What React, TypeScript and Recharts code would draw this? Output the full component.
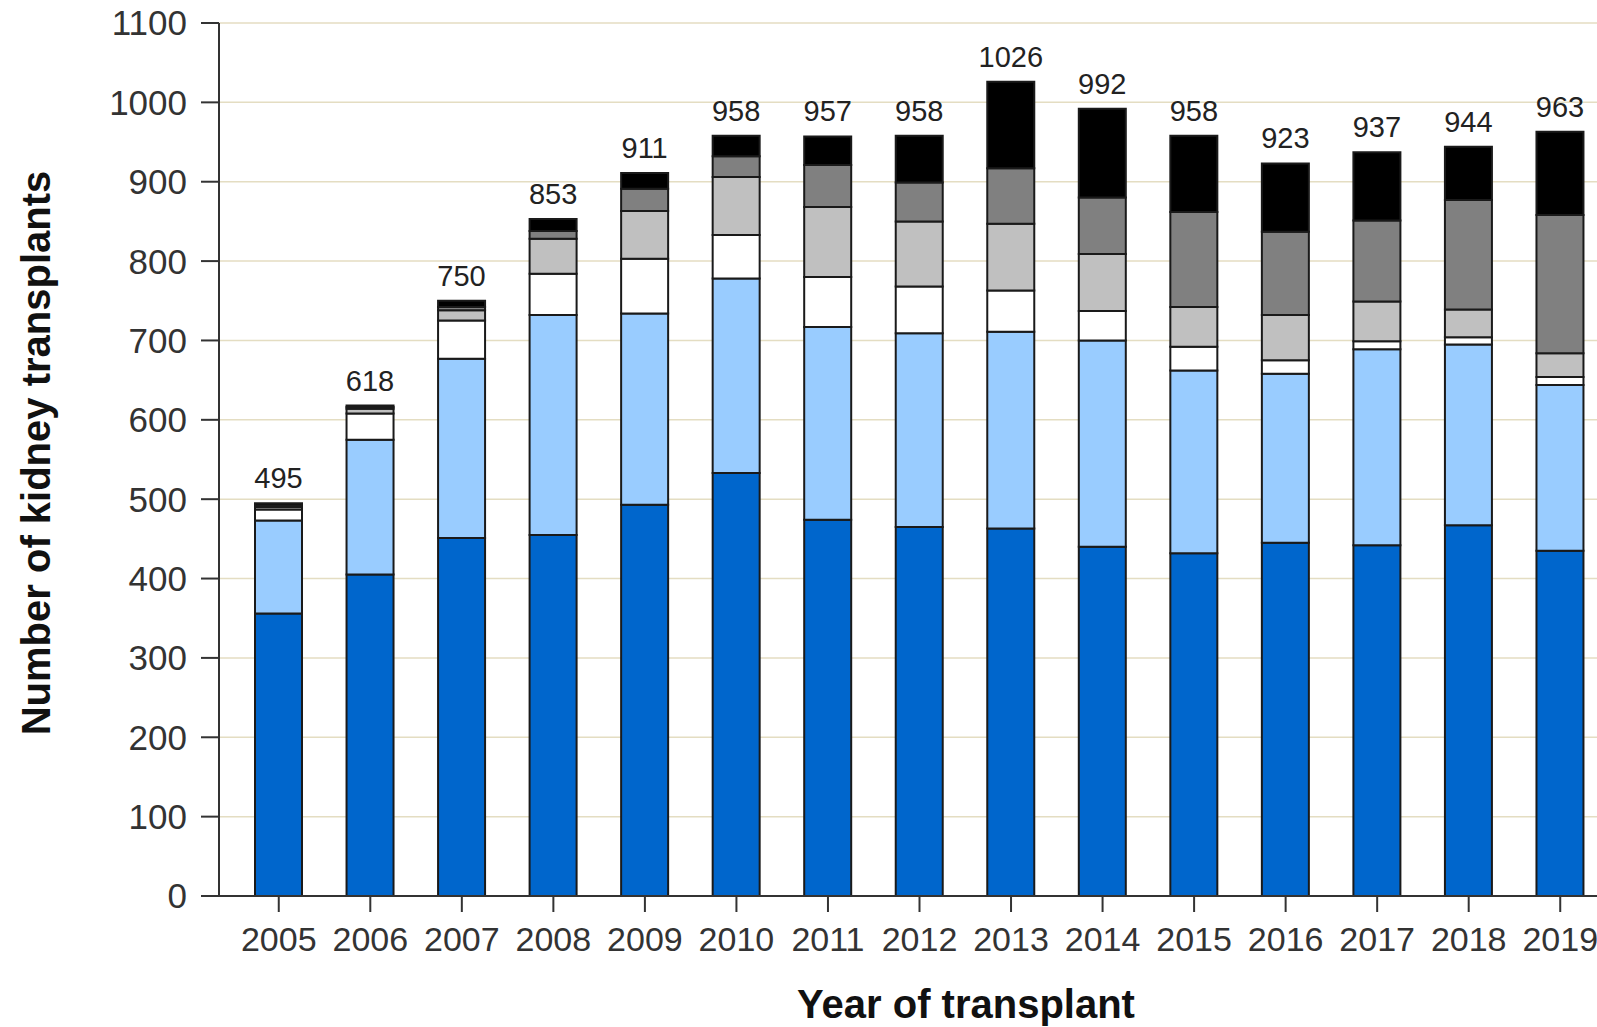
import { BarChart, Bar, XAxis, YAxis, CartesianGrid, LabelList, Label } from 'recharts'

const years = ['2005', '2006', '2007', '2008', '2009', '2010', '2011', '2012', '2013', '2014', '2015', '2016', '2017', '2018', '2019']
const darkBlue = [356, 405, 451, 455, 493, 533, 474, 465, 463, 440, 432, 445, 442, 467, 435]
const lightBlue = [117, 170, 226, 277, 241, 245, 243, 244, 248, 260, 230, 213, 247, 228, 209]
const white = [14, 33, 48, 52, 69, 55, 63, 59, 52, 37, 30, 17, 10, 9, 10]
const lightGray = [3, 6, 13, 44, 60, 73, 88, 82, 84, 72, 50, 57, 50, 35, 30]
const midGray = [2, 2, 4, 10, 28, 26, 53, 49, 70, 71, 120, 105, 102, 138, 174]
const black = [3, 2, 8, 15, 20, 26, 36, 59, 109, 112, 96, 86, 86, 67, 105]
const totals = [495, 618, 750, 853, 911, 958, 957, 958, 1026, 992, 958, 923, 937, 944, 963]
const yTicks = [0, 100, 200, 300, 400, 500, 600, 700, 800, 900, 1000, 1100]

const data = years.map((year, i) => ({
  year,
  darkBlue: darkBlue[i],
  lightBlue: lightBlue[i],
  white: white[i],
  lightGray: lightGray[i],
  midGray: midGray[i],
  black: black[i],
}))

const series = [
  { key: 'darkBlue', fill: '#0066cc' },
  { key: 'lightBlue', fill: '#99ccff' },
  { key: 'white', fill: '#ffffff' },
  { key: 'lightGray', fill: '#c0c0c0' },
  { key: 'midGray', fill: '#808080' },
  { key: 'black', fill: '#000000' },
]

const font = "'Liberation Sans', Arial, sans-serif"

function TotalLabel(props: any) {
  const { x, y, width, index } = props
  return (
    <text
      x={Number(x) + Number(width) / 2}
      y={Number(y) - 15}
      textAnchor="middle"
      fontSize={29}
      fontFamily={font}
      fill="#222"
    >
      {totals[index]}
    </text>
  )
}

export default function App() {
  return (
    <div style={{ position: 'fixed', left: 0, top: 0, width: 1597, height: 1027, overflow: 'hidden', background: '#fff' }}>
      <BarChart
        width={1620}
        height={1027}
        data={data}
        margin={{ top: 23, right: 0, left: 0, bottom: 0 }}
        barSize={47}
      >
        <CartesianGrid vertical={false} stroke="#e4ddc2" strokeWidth={1.5} />
        <XAxis
          dataKey="year"
          height={131}
          padding={{ left: 14, right: 14 }}
          axisLine={{ stroke: '#333', strokeWidth: 2 }}
          tickLine={{ stroke: '#333', strokeWidth: 2 }}
          tickSize={16}
          tickMargin={15}
          tick={{ fontSize: 34, fill: '#333', fontFamily: font }}
          interval={0}
        >
          <Label
            content={() => (
              <text x={966} y={1018} textAnchor="middle" fontSize={40} fontWeight="bold" fontFamily={font} fill="#111">
                Year of transplant
              </text>
            )}
          />
        </XAxis>
        <YAxis
          width={219}
          domain={[0, 1100]}
          ticks={yTicks}
          interval={0}
          axisLine={{ stroke: '#333', strokeWidth: 2 }}
          tickLine={{ stroke: '#333', strokeWidth: 2 }}
          tickSize={18}
          tickMargin={14}
          tick={{ fontSize: 35, fill: '#333', fontFamily: font }}
        >
          <Label
            content={() => (
              <text
                transform="translate(50,453) rotate(-90)"
                textAnchor="middle"
                fontSize={40}
                fontWeight="bold"
                fontFamily={font}
                fill="#111"
              >
                Number of kidney transplants
              </text>
            )}
          />
        </YAxis>
        {series.map((s) => (
          <Bar
            key={s.key}
            dataKey={s.key}
            stackId="a"
            fill={s.fill}
            stroke="#1a1a1a"
            strokeWidth={2}
            isAnimationActive={false}
          >
            {s.key === 'black' && <LabelList dataKey="black" content={TotalLabel} />}
          </Bar>
        ))}
      </BarChart>
    </div>
  )
}
